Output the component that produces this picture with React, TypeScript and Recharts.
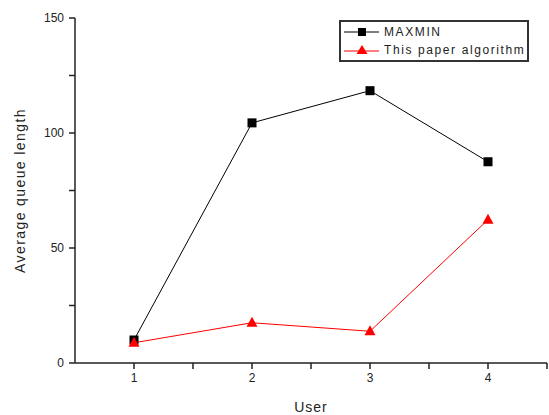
import React from 'react';
import { LineChart, Line, XAxis, YAxis } from 'recharts';

const users = [1, 2, 3, 4];
const maxmin = [10, 104.4, 118.4, 87.5];
const ours = [8.8, 17.5, 13.8, 62.3];
const xTicks = [1, 1.5, 2, 2.5, 3, 3.5, 4, 4.5];
const yTicks = [0, 25, 50, 75, 100, 125, 150];

const data = users.map((u, i) => ({ user: u, maxmin: maxmin[i], ours: ours[i] }));

const font = '"Liberation Sans", Arial, sans-serif';

const SquareDot = (props: any) => {
  const { cx, cy } = props;
  if (cx == null || cy == null) return null;
  return <rect x={cx - 4.5} y={cy - 4.5} width={9} height={9} fill="#000" />;
};

const TriDot = (props: any) => {
  const { cx, cy } = props;
  if (cx == null || cy == null) return null;
  return <polygon points={`${cx},${cy - 6} ${cx - 5.5},${cy + 4} ${cx + 5.5},${cy + 4}`} fill="#ff0000" />;
};

// drawn outside the chart so it takes no room from the plot
const LegendBox = () => (
  <div
    style={{
      position: 'absolute',
      left: 339,
      top: 20,
      border: '2px solid #333',
      background: '#fff',
      width: 184,
      padding: '1px 0 1px 2px',
      fontFamily: font,
      fontSize: 12,
      letterSpacing: 1.6,
      color: '#222',
      lineHeight: '18px',
      whiteSpace: 'nowrap',
    }}
  >
    <div style={{ display: 'flex', alignItems: 'center' }}>
      <svg width={38} height={12}>
        <line x1={1} y1={6} x2={36} y2={6} stroke="#000" strokeWidth={1} />
        <rect x={15} y={2} width={8} height={8} fill="#000" />
      </svg>
      <span style={{ marginLeft: 3 }}>MAXMIN</span>
    </div>
    <div style={{ display: 'flex', alignItems: 'center' }}>
      <svg width={38} height={12}>
        <line x1={1} y1={7} x2={36} y2={7} stroke="#ff0000" strokeWidth={1} />
        <polygon points="19,1 13.5,10 24.5,10" fill="#ff0000" />
      </svg>
      <span style={{ marginLeft: 3 }}>This paper algorithm</span>
    </div>
  </div>
);

export default function App() {
  return (
    <div style={{ position: 'absolute', left: 0, top: 0, width: 549, height: 415, background: '#fff' }}>
      <LineChart
        width={549}
        height={415}
        data={data}
        margin={{ top: 18, right: 2, bottom: 0, left: 0 }}
        style={{ fontFamily: font }}
      >
        <XAxis
          dataKey="user"
          type="number"
          domain={[0.5, 4.5]}
          ticks={xTicks}
          tickFormatter={(v: number) => (Number.isInteger(v) ? String(v) : '')}
          tickSize={6}
          tickMargin={4}
          height={52}
          axisLine={{ stroke: '#222', strokeWidth: 1.5 }}
          tickLine={{ stroke: '#222', strokeWidth: 1.5 }}
          tick={{ fill: '#222', fontSize: 12 }}
          label={{ value: 'User', position: 'insideBottom', offset: 3, fill: '#222', fontSize: 14, style: { letterSpacing: 1 } }}
        />
        <YAxis
          type="number"
          domain={[0, 150]}
          ticks={yTicks}
          tickFormatter={(v: number) => (v % 50 === 0 ? String(v) : '')}
          tickSize={6}
          tickMargin={5}
          width={75}
          axisLine={{ stroke: '#222', strokeWidth: 1.5 }}
          tickLine={{ stroke: '#222', strokeWidth: 1.5 }}
          tick={{ fill: '#222', fontSize: 12 }}
          label={{
            value: 'Average queue length',
            angle: -90,
            position: 'insideLeft',
            offset: 20,
            fill: '#222',
            fontSize: 14,
            style: { textAnchor: 'middle', letterSpacing: 1.4 },
          }}
        />
        <Line
          type="linear"
          dataKey="maxmin"
          stroke="#000"
          strokeWidth={1}
          dot={<SquareDot />}
          activeDot={false}
          isAnimationActive={false}
        />
        <Line
          type="linear"
          dataKey="ours"
          stroke="#ff0000"
          strokeWidth={1}
          dot={<TriDot />}
          activeDot={false}
          isAnimationActive={false}
        />
      </LineChart>
      <LegendBox />
    </div>
  );
}
